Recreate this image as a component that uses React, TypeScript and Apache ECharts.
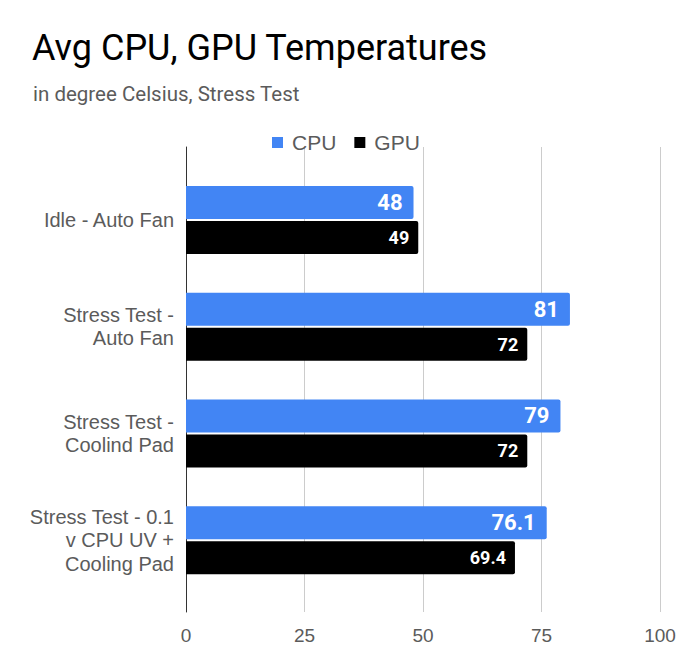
import * as echarts from "echarts";
import { useEffect, useRef } from "react";

const categories = [
  "Idle - Auto Fan",
  "Stress Test -\nAuto Fan",
  "Stress Test -\nCoolind Pad",
  "Stress Test - 0.1\nv CPU UV +\nCooling Pad",
];
const cpuValues = [48, 81, 79, 76.1];
const gpuValues = [49, 72, 72, 69.4];
const xTicks = [0, 25, 50, 75, 100];

const SANS = "'Liberation Sans', Arial, sans-serif";
const ROBOTO = "Roboto, sans-serif";
const GRAY = "#5b5b5b";

function getOption() {
  return {
    animation: false,
    title: [
      {
        text: "Avg CPU, GPU Temperatures",
        left: 32,
        top: 30,
        padding: 0,
        textStyle: {
          fontFamily: ROBOTO,
          fontSize: 36,
          fontWeight: "normal",
          color: "#000",
          lineHeight: 36,
        },
      },
      {
        text: "in degree Celsius, Stress Test",
        left: 33,
        top: 84,
        padding: 0,
        textStyle: {
          fontFamily: ROBOTO,
          fontSize: 20.5,
          fontWeight: "normal",
          color: GRAY,
          lineHeight: 20,
        },
      },
    ],
    legend: {
      left: 272,
      top: 132,
      padding: 0,
      itemWidth: 11,
      itemHeight: 11,
      itemGap: 18,
      icon: "rect",
      textStyle: {
        fontFamily: SANS,
        fontSize: 21,
        color: GRAY,
        padding: [0, 0, 0, 4],
      },
      data: ["CPU", "GPU"],
    },
    grid: [
      { left: 186, right: 35, top: 147, bottom: 54 },
      { left: 186, right: 35, top: 166.6, bottom: 72.4 },
    ],
    xAxis: [
      {
        gridIndex: 0,
        type: "value",
        min: xTicks[0],
        max: xTicks[xTicks.length - 1],
        interval: xTicks[1] - xTicks[0],
        axisLine: { show: false },
        axisTick: { show: false },
        axisLabel: {
          fontFamily: SANS,
          fontSize: 19,
          color: GRAY,
          margin: 14,
        },
        splitLine: {
          showMinLine: false,
          lineStyle: { color: "#cccccc", width: 1 },
        },
      },
      {
        gridIndex: 1,
        type: "value",
        min: xTicks[0],
        max: xTicks[xTicks.length - 1],
        show: false,
      },
    ],
    yAxis: [
      {
        gridIndex: 0,
        type: "value",
        min: 0,
        max: 1,
        axisLine: { show: true, lineStyle: { color: "#333", width: 1 } },
        axisTick: { show: false },
        axisLabel: { show: false },
        splitLine: { show: false },
      },
      {
        gridIndex: 1,
        type: "category",
        inverse: true,
        data: categories,
        axisLine: { show: false },
        axisTick: { show: false },
        splitLine: { show: false },
        axisLabel: {
          fontFamily: SANS,
          fontSize: 20,
          lineHeight: 23.5,
          color: GRAY,
          margin: 12,
        },
      },
    ],
    series: [
      {
        name: "CPU",
        type: "bar",
        xAxisIndex: 1,
        yAxisIndex: 1,
        data: cpuValues,
        barWidth: 33,
        barGap: "6%",
        itemStyle: { color: "#4285f4", borderRadius: [0, 2, 2, 0] },
        label: {
          show: true,
          position: "insideRight",
          distance: 11,
          color: "#fff",
          fontFamily: ROBOTO,
          fontWeight: "bold",
          fontSize: 22,
        },
      },
      {
        name: "GPU",
        type: "bar",
        xAxisIndex: 1,
        yAxisIndex: 1,
        data: gpuValues,
        barWidth: 33,
        barGap: "6%",
        itemStyle: { color: "#000000", borderRadius: [0, 2, 2, 0] },
        label: {
          show: true,
          position: "insideRight",
          distance: 9,
          color: "#fff",
          fontFamily: ROBOTO,
          fontWeight: "bold",
          fontSize: 18,
        },
      },
    ],
  };
}

const App = () => {
  const containerRef = useRef<HTMLDivElement>(null);

  useEffect(() => {
    document.body.style.margin = "0";
    if (!containerRef.current) return;
    const chart = echarts.init(containerRef.current, undefined, {
      renderer: "svg",
    });
    chart.setOption(getOption());
    return () => {
      chart.dispose();
    };
  }, []);

  return (
    <div
      ref={containerRef}
      style={{ width: 695, height: 666, background: "#fff" }}
    />
  );
};

export default App;
